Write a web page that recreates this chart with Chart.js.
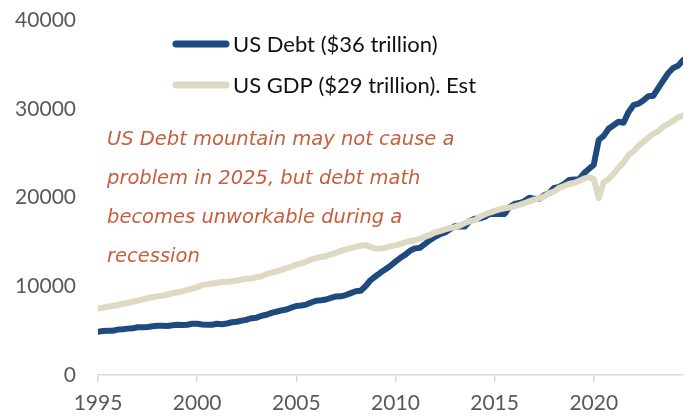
<!DOCTYPE html>
<html>
<head>
<meta charset="utf-8">
<script src="https://cdn.jsdelivr.net/npm/chart.js@4/dist/chart.umd.min.js"></script>
<style>
  html, body { margin: 0; padding: 0; background: #ffffff; }
  #wrap { position: relative; width: 692px; height: 417px; }
</style>
</head>
<body>
<div id="wrap"><canvas id="chart" width="692" height="417"></canvas></div>
<script>
// Quarterly series, 1995 Q1 through 2024 Q3, in $ billions
const startYear = 1995;
const seriesNames = ['US Debt ($36 trillion)', 'US GDP ($29 trillion). Est'];

const usDebt = [
  4864, 4951, 4974, 4989,
  5118, 5161, 5225, 5261,
  5381, 5376, 5413, 5502,
  5542, 5548, 5526, 5614,
  5651, 5639, 5656, 5776,
  5773, 5686, 5674, 5662,
  5773, 5726, 5807, 5943,
  6006, 6126, 6228, 6405,
  6460, 6670, 6783, 6998,
  7131, 7274, 7379, 7596,
  7777, 7836, 7933, 8170,
  8371, 8420, 8507, 8680,
  8849, 8867, 9008, 9229,
  9437, 9492, 10025, 10700,
  11127, 11545, 11910, 12311,
  12773, 13202, 13562, 14025,
  14270, 14343, 14790, 15223,
  15582, 15856, 16066, 16433,
  16771, 16738, 16738, 17352,
  17601, 17632, 17824, 18141,
  18152, 18152, 18151, 18922,
  19264, 19381, 19573, 19977,
  19846, 19845, 20245, 20493,
  21090, 21195, 21516, 21974,
  22028, 22023, 22719, 23201,
  23687, 26477, 26946, 27748,
  28133, 28529, 28428, 29617,
  30401, 30569, 30929, 31420,
  31458, 32332, 33167, 34001,
  34587, 34832, 35465
];

const usGdp = [
  7522, 7581, 7684, 7777,
  7868, 8033, 8132, 8259,
  8362, 8518, 8662, 8765,
  8867, 8944, 9067, 9212,
  9316, 9428, 9564, 9738,
  9899, 10140, 10212, 10318,
  10372, 10508, 10481, 10558,
  10638, 10768, 10844, 10887,
  11017, 11127, 11358, 11542,
  11657, 11854, 12031, 12214,
  12436, 12570, 12794, 12996,
  13187, 13304, 13387, 13588,
  13759, 13985, 14151, 14301,
  14429, 14572, 14634, 14414,
  14243, 14238, 14335, 14486,
  14608, 14760, 14950, 15102,
  15190, 15385, 15583, 15783,
  16070, 16221, 16403, 16564,
  16651, 16853, 17125, 17335,
  17442, 17813, 18079, 18301,
  18500, 18666, 18782, 18866,
  19013, 19177, 19359, 19567,
  19762, 19880, 20117, 20487,
  20666, 21086, 21284, 21520,
  21631, 21872, 22119, 22277,
  22080, 19935, 21705, 22088,
  22657, 23368, 23922, 24778,
  25215, 25806, 26272, 26735,
  27164, 27454, 27968, 28297,
  28624, 29017, 29250
];

const yTicks = [0, 10000, 20000, 30000, 40000];
const xTickYears = [1995, 2000, 2005, 2010, 2015, 2020];

const noteLines = [
  'US Debt mountain may not cause a',
  'problem in 2025, but debt math',
  'becomes unworkable during a',
  'recession'
];

const debtColor = '#1F4A7E';
const gdpColor = '#DDD9C3';
const noteColor = '#C4603F';
const axisText = '#595959';

// quarter index -> fractional year on the time axis
const toPoints = arr => arr.map((v, i) => ({ x: startYear + i / 4, y: v }));

// Stacked legend and italic note, drawn over the plot
const overlay = {
  id: 'overlay',
  afterDatasetsDraw(chart) {
    const ctx = chart.ctx;
    ctx.save();
    // legend
    const items = chart.data.datasets;
    const legendY = [44, 85];
    items.forEach((ds, i) => {
      ctx.strokeStyle = ds.borderColor;
      ctx.lineWidth = 7;
      ctx.lineCap = 'round';
      ctx.beginPath();
      ctx.moveTo(176, legendY[i]);
      ctx.lineTo(226, legendY[i]);
      ctx.stroke();
      ctx.fillStyle = '#111111';
      ctx.font = '22px Lato, "Liberation Sans", sans-serif';
      ctx.textBaseline = 'middle';
      ctx.textAlign = 'left';
      ctx.fillText(ds.label, 233, legendY[i] + 1);
    });
    // note
    ctx.fillStyle = noteColor;
    ctx.font = 'italic 19.5px "DejaVu Sans", sans-serif';
    ctx.textBaseline = 'middle';
    noteLines.forEach((t, i) => {
      ctx.fillText(t, 107, 140 + i * 39);
    });
    ctx.restore();
  }
};

new Chart(document.getElementById('chart'), {
  type: 'line',
  data: {
    datasets: [
      {
        label: seriesNames[0],
        data: toPoints(usDebt),
        borderColor: debtColor,
        borderWidth: 6,
        pointRadius: 0,
        tension: 0,
        borderJoinStyle: 'round',
        borderCapStyle: 'round',
        order: 2
      },
      {
        label: seriesNames[1],
        data: toPoints(usGdp),
        borderColor: gdpColor,
        borderWidth: 6,
        pointRadius: 0,
        tension: 0,
        borderJoinStyle: 'round',
        borderCapStyle: 'round',
        order: 1
      }
    ]
  },
  options: {
    responsive: false,
    animation: false,
    layout: { autoPadding: false, padding: { top: 20, right: 9, bottom: 0, left: 0 } },
    plugins: {
      legend: { display: false },
      tooltip: { enabled: false }
    },
    scales: {
      x: {
        type: 'linear',
        min: startYear,
        max: startYear + (usDebt.length - 1) / 4,
        afterFit(scale) { scale.height = 42; },
        afterBuildTicks(scale) {
          scale.ticks = xTickYears.map(v => ({ value: v }));
        },
        ticks: {
          callback: v => String(v),
          color: axisText,
          font: { family: 'Lato, "Liberation Sans", sans-serif', size: 21 },
          padding: 9,
          maxRotation: 0,
          autoSkip: false
        },
        grid: {
          drawOnChartArea: false,
          drawTicks: true,
          tickLength: 7,
          tickColor: '#D9D9D9',
          lineWidth: 1.5
        },
        border: { display: true, color: '#D9D9D9', width: 1.5 }
      },
      y: {
        min: 0,
        max: 40000,
        afterFit(scale) {
          scale.width = 98;
          scale.paddingTop = 0;
          scale.paddingBottom = 0;
        },
        afterBuildTicks(scale) {
          scale.ticks = yTicks.map(v => ({ value: v }));
        },
        ticks: {
          callback: v => String(v),
          color: axisText,
          font: { family: 'Lato, "Liberation Sans", sans-serif', size: 21 },
          padding: 22
        },
        grid: { display: false, drawTicks: false },
        border: { display: false }
      }
    }
  },
  plugins: [overlay]
});
</script>
</body>
</html>
